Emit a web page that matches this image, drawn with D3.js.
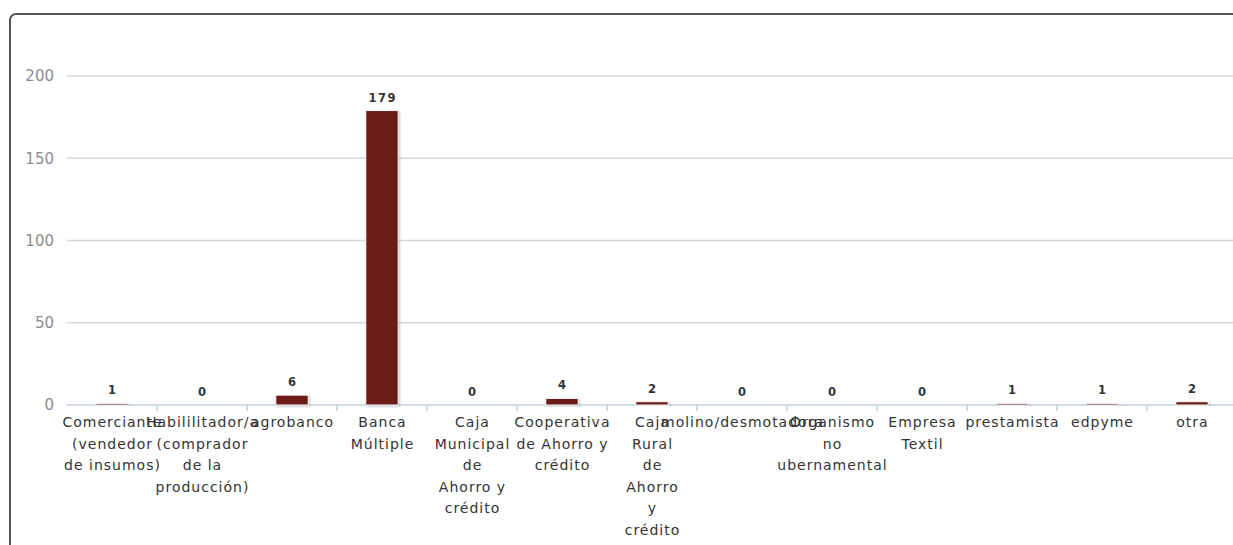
<!DOCTYPE html>
<html>
<head>
<meta charset="utf-8">
<script src="https://cdn.jsdelivr.net/npm/d3@7"></script>
<style>
  html, body { margin: 0; padding: 0; background: #fff; }
  svg { display: block; }
</style>
</head>
<body>
<svg id="chart" width="1233" height="545"></svg>
<script>
const categories = [
  "Comerciante (vendedor de insumos)",
  "Habililitador/a (comprador de la producción)",
  "agrobanco",
  "Banca Múltiple",
  "Caja Municipal de Ahorro y crédito",
  "Cooperativa de Ahorro y crédito",
  "Caja Rural de Ahorro y crédito",
  "molino/desmotadora",
  "Organismo no ubernamental",
  "Empresa Textil",
  "prestamista",
  "edpyme",
  "otra"
];
const categoryLines = [
  ["Comerciante", "(vendedor", "de insumos)"],
  ["Habililitador/a", "(comprador", "de la", "producción)"],
  ["agrobanco"],
  ["Banca", "Múltiple"],
  ["Caja", "Municipal", "de", "Ahorro y", "crédito"],
  ["Cooperativa", "de Ahorro y", "crédito"],
  ["Caja", "Rural", "de", "Ahorro", "y", "crédito"],
  ["molino/desmotadora"],
  ["Organismo", "no", "ubernamental"],
  ["Empresa", "Textil"],
  ["prestamista"],
  ["edpyme"],
  ["otra"]
];
const values = [1, 0, 6, 179, 0, 4, 2, 0, 0, 0, 1, 1, 2];
const yTicks = [0, 50, 100, 150, 200];

const svg = d3.select("#chart");
const font = "'DejaVu Sans', Verdana, sans-serif";

const defs = svg.append("defs");
const f = defs.append("filter").attr("id", "shadow")
  .attr("x", "-20%").attr("y", "-20%").attr("width", "150%").attr("height", "150%");
f.append("feDropShadow").attr("dx", 1).attr("dy", 1).attr("stdDeviation", 1)
  .attr("flood-color", "#000").attr("flood-opacity", 0.25);

// frame
svg.append("rect")
  .attr("x", 10).attr("y", 14)
  .attr("width", 1260).attr("height", 560)
  .attr("rx", 6).attr("ry", 6)
  .attr("fill", "#fff").attr("stroke", "#555").attr("stroke-width", 2);

const plotLeft = 67, plotRight = 1237, plotTop = 76, plotBottom = 405;
const x = d3.scaleBand().domain(categories).range([plotLeft, plotRight]).padding(0);
const y = d3.scaleLinear().domain([0, 200]).range([plotBottom, plotTop]);

// grid
svg.append("g").selectAll("line")
  .data(yTicks.filter(d => d > 0))
  .join("line")
  .attr("x1", plotLeft).attr("x2", 1233)
  .attr("y1", d => y(d)).attr("y2", d => y(d))
  .attr("stroke", "#d8d8d8").attr("stroke-width", 1.5);

// y labels
svg.append("g").selectAll("text")
  .data(yTicks)
  .join("text")
  .attr("x", 54).attr("y", d => y(d))
  .attr("dy", "0.36em")
  .attr("text-anchor", "end")
  .attr("font-family", font).attr("font-size", 15)
  .attr("fill", "#8c8c94")
  .text(d => d);

// x axis line + ticks
svg.append("line")
  .attr("x1", plotLeft).attr("x2", 1233)
  .attr("y1", plotBottom).attr("y2", plotBottom)
  .attr("stroke", "#c0d0e0").attr("stroke-width", 1.5);
svg.append("g").selectAll("line")
  .data(categories.slice(1))
  .join("line")
  .attr("x1", d => x(d)).attr("x2", d => x(d))
  .attr("y1", plotBottom).attr("y2", plotBottom + 6)
  .attr("stroke", "#c0d0e0").attr("stroke-width", 1.5);

// bars
const barW = x.bandwidth() * 0.36;
svg.append("g").selectAll("rect")
  .data(values)
  .join("rect")
  .attr("x", (d, i) => x(categories[i]) + x.bandwidth() / 2 - barW / 2)
  .attr("y", d => y(d))
  .attr("width", barW)
  .attr("height", d => y(0) - y(d))
  .attr("fill", "#6b1c16")
  .attr("stroke", "#fff").attr("stroke-width", 1)
  .attr("filter", "url(#shadow)");

// value labels
svg.append("g").selectAll("text")
  .data(values)
  .join("text")
  .attr("x", (d, i) => x(categories[i]) + x.bandwidth() / 2 + 0.75)
  .attr("y", d => y(d) - 9)
  .attr("text-anchor", "middle")
  .attr("font-family", font).attr("font-size", 11.5).attr("font-weight", "bold")
  .attr("letter-spacing", 1.5)
  .attr("fill", "#333")
  .text(d => d);

// x labels
const xl = svg.append("g").selectAll("text")
  .data(categoryLines)
  .join("text")
  .attr("text-anchor", "middle")
  .attr("font-family", font).attr("font-size", 14)
  .attr("letter-spacing", 1)
  .attr("fill", "#333");
xl.each(function(lines, i) {
  const cx = x(categories[i]) + x.bandwidth() / 2 + 0.5;
  d3.select(this).selectAll("tspan")
    .data(lines)
    .join("tspan")
    .attr("x", cx)
    .attr("y", (d, j) => 427 + j * 21.6)
    .text(d => d);
});
</script>
</body>
</html>
